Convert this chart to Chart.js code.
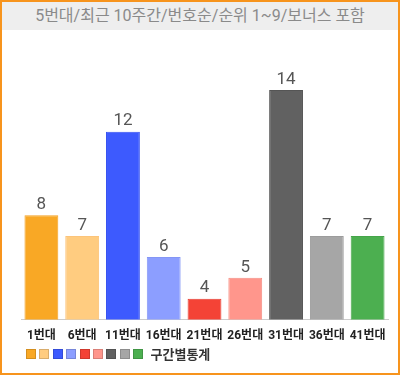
<!DOCTYPE html>
<html>
<head>
<meta charset="utf-8">
<script src="https://cdn.jsdelivr.net/npm/chart.js@4/dist/chart.umd.min.js"></script>
<style>
  body { margin: 0; font-family: Roboto, 'Noto Sans CJK KR', sans-serif; }
  #box { position: relative; width: 400px; height: 375px; box-sizing: border-box; border: 2px solid #f7941d; background: #fff; }
  #title { height: 28px; line-height: 28px; background: #eeeeee; color: #8a8a8a; font-size: 16px; text-align: center; }
  #chart { position: absolute; left: -2px; top: -2px; }
  #legend { position: absolute; left: 24px; top: 342px; display: flex; align-items: center; }
  #legend span.sw { width: 8px; height: 8px; margin-right: 3.4px; border: 1px solid rgba(0,0,0,0.15); }
  #legend span.txt { margin-left: 4px; font-size: 13px; font-weight: bold; color: #333; }
</style>
</head>
<body>
<div id="box">
  <div id="title">5번대/최근 10주간/번호순/순위 1~9/보너스 포함</div>
  <canvas id="chart" width="400" height="375"></canvas>
  <div id="legend"></div>
</div>
<script>
// 구간 (categories) and counts
var labels = ['1번대', '6번대', '11번대', '16번대', '21번대', '26번대', '31번대', '36번대', '41번대'];
var counts = [8, 7, 12, 6, 4, 5, 14, 7, 7];
var colors = ['#f9a825', '#ffcc80', '#3d5afe', '#8c9eff', '#f44336', '#ff968c', '#616161', '#a6a6a6', '#4caf50'];
var borders = ['#f5a020', '#fcc47a', '#3550f0', '#8496f5', '#e83c30', '#f58c82', '#555555', '#9c9c9c', '#45a549'];

var valueLabels = {
  id: 'valueLabels',
  afterDatasetsDraw: function (chart) {
    var ctx = chart.ctx;
    var meta = chart.getDatasetMeta(0);
    ctx.save();
    ctx.fillStyle = '#555';
    ctx.font = '17px Roboto, "Noto Sans CJK KR", sans-serif';
    ctx.textAlign = 'center';
    ctx.textBaseline = 'bottom';
    meta.data.forEach(function (bar, i) {
      ctx.fillText(counts[i], bar.x, bar.y - 2);
    });
    ctx.restore();
  }
};

new Chart(document.getElementById('chart'), {
  type: 'bar',
  data: {
    labels: labels,
    datasets: [{
      label: '구간별통계',
      data: counts,
      backgroundColor: colors,
      borderColor: borders,
      borderWidth: 1,
      barPercentage: 0.83,
      categoryPercentage: 1
    }]
  },
  options: {
    responsive: false,
    animation: false,
    layout: { padding: { left: 21, right: 12, top: 69, bottom: 31 } },
    plugins: { legend: { display: false }, tooltip: { enabled: false } },
    scales: {
      x: {
        grid: { display: false },
        border: { display: true, color: '#cccccc' },
        ticks: { color: '#222', padding: 1, maxRotation: 0, minRotation: 0, autoSkip: false, font: { size: 12, weight: 'bold', family: 'Roboto, "Noto Sans CJK KR", sans-serif' } }
      },
      y: { display: false, min: 3, max: 15 }
    }
  },
  plugins: [valueLabels]
});

var legend = document.getElementById('legend');
colors.forEach(function (c) {
  var s = document.createElement('span');
  s.className = 'sw';
  s.style.background = c;
  legend.appendChild(s);
});
var t = document.createElement('span');
t.className = 'txt';
t.textContent = '구간별통계';
legend.appendChild(t);
</script>
</body>
</html>
